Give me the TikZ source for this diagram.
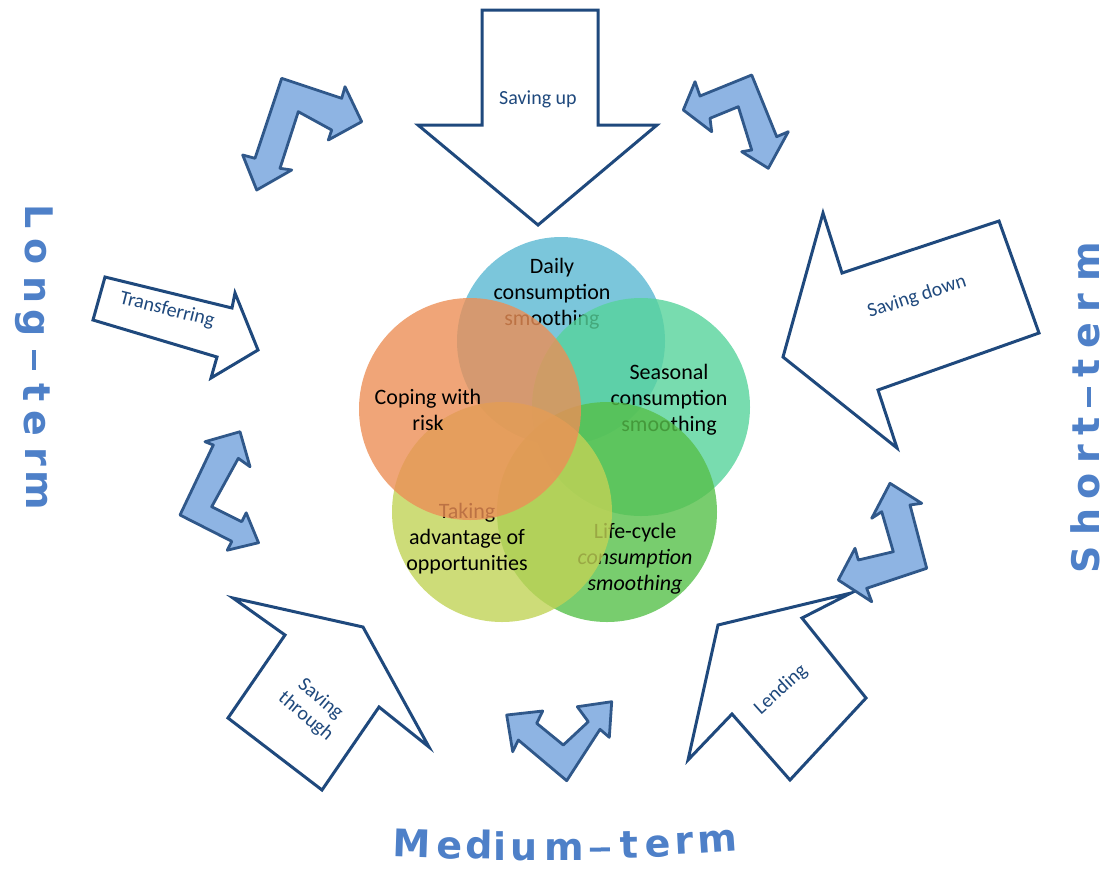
\documentclass[tikz,border=0pt]{standalone}
\usepackage{fontspec}
\setmainfont{Carlito}
\newfontfamily\termfont{DejaVu Sans}
\definecolor{bentfill}{RGB}{142,180,227}
\definecolor{bentline}{RGB}{48,88,138}
\definecolor{outline}{RGB}{31,73,125}
\definecolor{labelblue}{RGB}{31,73,125}
\definecolor{termblue}{RGB}{78,128,200}
\definecolor{cblue}{RGB}{90,184,210}
\definecolor{corange}{RGB}{236,143,86}
\definecolor{cteal}{RGB}{86,211,155}
\definecolor{cgreen}{RGB}{86,192,74}
\definecolor{cyellow}{RGB}{193,211,86}
\newcommand{\termdash}{\rule[8.5pt]{20pt}{4pt}}
\begin{document}
\begin{tikzpicture}[x=1pt,y=-1pt,
  bentarrow/.style={fill=bentfill, draw=bentline, line width=2.8pt, line join=round},
  outarrow/.style={fill=white, draw=outline, line width=3pt, line join=miter},
  arrowlabel/.style={text=labelblue, font=\fontsize{20}{23}\selectfont, align=center, inner sep=0pt},
  circ/.style={circle, inner sep=0pt, fill opacity=0.8, draw=none},
  circtext/.style={font=\fontsize{22}{26}\selectfont, align=center, text=black, inner sep=0pt},
  termletter/.style={font=\termfont\bfseries\fontsize{38}{40}\selectfont, text=termblue, inner sep=0pt, anchor=base}
]
\useasboundingbox (0,0) rectangle (1107,871);

% ---- outlined arrows ----
\draw[outarrow] (482,10) -- (598,10) -- (598,125) -- (657,125) -- (538,225) -- (418,125) -- (482,125) -- cycle;
\node[arrowlabel] (lsavingup) at (538,99) {Saving up};

\draw[outarrow] (999,221) -- (842,273) -- (823,213) -- (783,357) -- (897,448) -- (878,390) -- (1039,333) -- cycle;
\node[arrowlabel, rotate=18] (lsavingdown) at (917,297) {Saving down};

\draw[outarrow] (105,277) -- (232,308) -- (235,293) -- (258,350) -- (211,378) -- (217,357) -- (93,320) -- cycle;
\node[arrowlabel, rotate=-14] (ltransfer) at (167,310) {Transferring};

\draw[outarrow] (233,598) -- (363,627) -- (429,747) -- (379,707) -- (322,790) -- (228,718) -- (285,635) -- cycle;
\node[arrowlabel, rotate=-40] (lthrough) at (313,708) {Saving\\through};

\draw[outarrow] (718,625) -- (851,593) -- (802,618) -- (866,698) -- (790,780) -- (732,714) -- (688,760) -- cycle;
\node[arrowlabel, rotate=42] (llending) at (781,690) {Lending};

% ---- bent blue arrows ----
\draw[bentarrow] (281.7,78.3) -- (341.7,98.3) -- (345,86.7) -- (361.7,121.7) -- (328.3,140) -- (331.7,130) -- (298.3,111.7) -- (280,168.3) -- (291.7,170) -- (256.7,190) -- (242.7,155) -- (255,158.3) -- cycle;
\draw[bentarrow] (695,81.7) -- (700,96) -- (751.7,75) -- (776.7,136.7) -- (788.3,131.7) -- (768.3,168.3) -- (741.7,151.7) -- (751.7,150) -- (738.3,106.7) -- (710,118.3) -- (711.7,131.7) -- (683.3,110) -- cycle;
\draw[bentarrow] (240,431.7) -- (250,466.7) -- (238.3,458.3) -- (211.7,506.7) -- (241.7,521.7) -- (246.2,512.8) -- (258.5,542.7) -- (227.3,550.2) -- (231.8,541.3) -- (180,515) -- (213.3,445) -- (205,441.7) -- cycle;
\draw[bentarrow] (890,483.3) -- (921.7,503.3) -- (910,505) -- (926.7,568.3) -- (866.7,588.3) -- (871.7,601.7) -- (838.3,580) -- (855,548.3) -- (858.3,560) -- (893.3,551.7) -- (881.7,511.7) -- (871.7,518.3) -- cycle;
\draw[bentarrow] (506.7,715) -- (542.7,711) -- (536.7,723.3) -- (563.3,745) -- (588.3,721.7) -- (577.3,706.7) -- (611.7,701.7) -- (609.3,737.3) -- (600,729.3) -- (566.7,780.7) -- (518.3,740) -- (512.7,751.7) -- cycle;

% ---- circles ----
\node[circ, fill=cblue, minimum size=208pt] (cdaily) at (561,341) {};
\node[circtext] (tdaily) at (552,294) {Daily\\consumption\\smoothing};
\node[circ, fill=cteal, minimum size=218pt] (cseason) at (641,407) {};
\node[circtext] (tseason) at (669,400) {Seasonal\\consumption\\smoothing};
\node[circ, fill=cgreen, minimum size=220pt] (clife) at (607,512) {};
\node[circtext] (tlife) at (635,559) {Life-cycle\\\textit{consumption}\\\textit{smoothing}};
\node[circ, fill=cyellow, minimum size=220pt] (ctaking) at (502,512) {};
\node[circtext] (ttaking) at (467,539) {Taking\\advantage of\\opportunities};
\node[circ, fill=corange, minimum size=222pt] (ccoping) at (470,409) {};
\node[circtext] (tcoping) at (428,410) {Coping with\\risk};

% ---- term labels ----
\foreach \ch/\bx/\cy [count=\i] in {L/25/217, o/25/252, n/24/290, g/23/323, \termdash/23/360, t/23/393, e/24/423, r/25/457, m/27/490}
  \node[termletter, rotate=-90] (long\i) at (\bx,\cy) {\ch};
\foreach \ch/\bx/\cy [count=\i] in {S/1099/560, h/1099/522, o/1099/486, r/1099/454, t/1099/426, \termdash/1099/397, t/1099/368, e/1099/336, r/1099/303, m/1099/262}
  \node[termletter, rotate=90] (short\i) at (\bx,\cy) {\ch};
\foreach \ch/\cx/\by/\r [count=\i] in {M/411/857/-2, e/449/859/-1.5, d/479/859/-1, i/500/860/0, u/524/860/0, m/564/860/0, \termdash/600/860/1, t/630/858/1.5, e/658/857/2, r/685/854/3, m/718/852/4}
  \node[termletter, rotate=\r] (med\i) at (\cx,\by) {\ch};
\end{tikzpicture}
\end{document}
